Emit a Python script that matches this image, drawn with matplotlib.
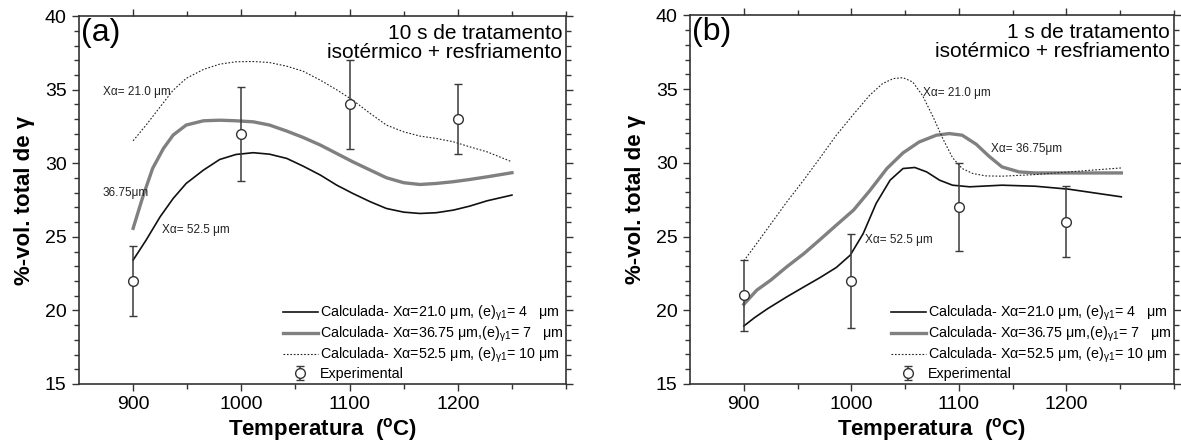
import matplotlib
matplotlib.use("Agg")
import matplotlib.pyplot as plt
from matplotlib.ticker import MultipleLocator, FixedLocator

plt.rcParams['font.family'] = ['Liberation Sans', 'DejaVu Sans']
plt.rcParams['mathtext.fontset'] = 'custom'
plt.rcParams['mathtext.rm'] = 'Liberation Sans'
plt.rcParams['mathtext.it'] = 'Liberation Sans:italic'
plt.rcParams['mathtext.bf'] = 'Liberation Sans:bold'

# ---- panel (a): 10 s ----
a_exp_T = [900, 1000, 1100, 1200]
a_exp_V = [22, 32, 34, 33]
a_exp_err = [2.4, 3.2, 3.0, 2.4]

a_dot_T = [900, 912, 925, 937, 949, 965, 980, 995, 1011, 1026, 1042, 1057, 1073, 1088, 1103,
           1119, 1134, 1150, 1165, 1180, 1196, 1211, 1227, 1250]
a_dot_V = [31.53, 32.6, 33.84, 34.97, 35.77, 36.38, 36.74, 36.9, 36.92, 36.85, 36.6, 36.26,
           35.65, 35.0, 34.29, 33.39, 32.6, 32.14, 31.85, 31.69, 31.46, 31.12, 30.78, 30.1]

a_gray_T = [900, 909, 918, 928, 937, 949, 965, 980, 995, 1011, 1026, 1042, 1057, 1073, 1088,
            1103, 1119, 1134, 1150, 1165, 1180, 1196, 1211, 1227, 1250]
a_gray_V = [25.58, 27.73, 29.65, 31.01, 31.92, 32.6, 32.89, 32.93, 32.89, 32.82, 32.6, 32.19,
            31.76, 31.24, 30.67, 30.1, 29.54, 29.02, 28.68, 28.56, 28.63, 28.75, 28.9, 29.08, 29.36]

a_blk_T = [900, 912, 925, 937, 949, 965, 980, 995, 1011, 1026, 1042, 1057, 1073, 1088, 1103,
           1119, 1134, 1150, 1165, 1180, 1196, 1211, 1227, 1250]
a_blk_V = [23.42, 24.78, 26.37, 27.61, 28.63, 29.54, 30.26, 30.6, 30.72, 30.62, 30.33, 29.81,
           29.2, 28.52, 27.95, 27.39, 26.93, 26.68, 26.59, 26.64, 26.82, 27.09, 27.45, 27.84]

# ---- panel (b): 1 s ----
b_exp_T = [900, 1000, 1100, 1200]
b_exp_V = [21, 22, 27, 26]
b_exp_err = [2.4, 3.2, 3.0, 2.4]

b_dot_T = [900, 912, 925, 940, 956, 971, 986, 1002, 1017, 1029, 1039, 1048, 1057, 1066, 1076,
           1085, 1094, 1103, 1113, 1125, 1140, 1171, 1202, 1251]
b_dot_V = [23.35, 24.53, 25.84, 27.35, 28.86, 30.35, 31.87, 33.29, 34.58, 35.37, 35.71, 35.77,
           35.48, 34.58, 33.11, 31.64, 30.35, 29.61, 29.27, 29.11, 29.09, 29.2, 29.38, 29.65]

b_gray_T = [900, 912, 925, 940, 956, 971, 986, 1002, 1017, 1033, 1048, 1063, 1079, 1091, 1103,
            1116, 1128, 1140, 1156, 1171, 1202, 1251]
b_gray_V = [20.4, 21.36, 22.04, 22.95, 23.85, 24.8, 25.77, 26.79, 28.1, 29.61, 30.67, 31.41,
            31.87, 31.98, 31.87, 31.26, 30.44, 29.72, 29.38, 29.31, 29.31, 29.31]

b_blk_T = [900, 910, 922, 940, 956, 971, 986, 999, 1011, 1023, 1036, 1048, 1059, 1070, 1082,
           1094, 1110, 1140, 1171, 1202, 1251]
b_blk_V = [18.93, 19.5, 20.1, 20.91, 21.59, 22.22, 22.9, 23.74, 25.2, 27.24, 28.82, 29.61,
           29.68, 29.38, 28.82, 28.48, 28.37, 28.48, 28.41, 28.21, 27.69]

leg_labels = [
    r'Calculada- Xα=21.0 μm, (e)$_{\mathregular{\gamma 1}}$= 4   μm',
    r'Calculada- Xα=36.75 μm,(e)$_{\mathregular{\gamma 1}}$= 7   μm',
    r'Calculada- Xα=52.5 μm, (e)$_{\mathregular{\gamma 1}}$= 10 μm',
    'Experimental',
]

fig = plt.figure(figsize=(11.81, 4.41), dpi=100)
ax_a = fig.add_axes([0.0669, 0.1293, 0.4124, 0.834])
ax_b = fig.add_axes([0.5843, 0.1293, 0.4098, 0.836])

lab_font = ['Liberation Sans Narrow', 'Liberation Sans', 'DejaVu Sans']


def draw_panel(ax, dT, dV, gT, gV, kT, kV, eT, eV, eE, tag, title, notes):
    l1, = ax.plot(kT, kV, color='#111111', lw=1.2)
    l2, = ax.plot(gT, gV, color='#808080', lw=2.4)
    l3, = ax.plot(dT, dV, color='#222222', lw=0.8, dashes=(1.5, 1.6))
    eb = ax.errorbar(eT, eV, yerr=eE, fmt='o', ms=7, mfc='white', mec='#333333',
                     mew=1.0, ecolor='#3a3a3a', elinewidth=1.1, capsize=2.6, capthick=1.1)
    ax.set_xlim(850, 1300)
    ax.set_ylim(15, 40)
    ax.xaxis.set_major_locator(FixedLocator([900, 1000, 1100, 1200]))
    ax.xaxis.set_minor_locator(FixedLocator([950, 1050, 1150, 1250, 1300]))
    ax.yaxis.set_major_locator(MultipleLocator(5))
    ax.yaxis.set_minor_locator(MultipleLocator(1))
    ax.tick_params(which='both', direction='out', top=True, right=True,
                   labelsize=14, color='#333333', width=1.0, pad=4)
    ax.tick_params(which='major', length=5)
    ax.tick_params(which='minor', length=3.5)
    for s in ax.spines.values():
        s.set_color('#333333')
        s.set_linewidth(1.2)
    ax.set_xlabel('Temperatura  ($^{\\mathbf{o}}$C)', fontsize=16, fontweight='bold',
                  labelpad=2, family=lab_font)
    ax.set_ylabel('%-vol. total de γ', fontsize=16, fontweight='bold', labelpad=7,
                  family=lab_font)
    ax.text(0.005, 0.995, tag, transform=ax.transAxes, fontsize=23, va='top', ha='left')
    ax.text(0.992, 0.978, title, transform=ax.transAxes, fontsize=15, va='top', ha='right',
            linespacing=0.95)
    for (x, y, s) in notes:
        ax.text(x, y, s, fontsize=8.5, color='#222222', va='center', ha='left')
    leg = ax.legend([l1, l2, l3, eb], leg_labels, loc='lower right', frameon=False,
                    fontsize=10.3, handlelength=2.4, handletextpad=0.15, labelspacing=0.12,
                    borderpad=0.15, borderaxespad=0.05)
    return leg


draw_panel(ax_a, a_dot_T, a_dot_V, a_gray_T, a_gray_V, a_blk_T, a_blk_V,
           a_exp_T, a_exp_V, a_exp_err, '(a)',
           '10 s de tratamento\nisotérmico + resfriamento',
           [(872, 34.85, 'Xα= 21.0 μm'), (872, 28.0, '36.75μm'), (927, 25.46, 'Xα= 52.5 μm')])
draw_panel(ax_b, b_dot_T, b_dot_V, b_gray_T, b_gray_V, b_blk_T, b_blk_V,
           b_exp_T, b_exp_V, b_exp_err, '(b)',
           '1 s de tratamento\nisotérmico + resfriamento',
           [(1067, 34.73, 'Xα= 21.0 μm'), (1129.6, 30.92, 'Xα= 36.75μm'), (1012.5, 24.75, 'Xα= 52.5 μm')])

fig.savefig('out.png', dpi=100)
